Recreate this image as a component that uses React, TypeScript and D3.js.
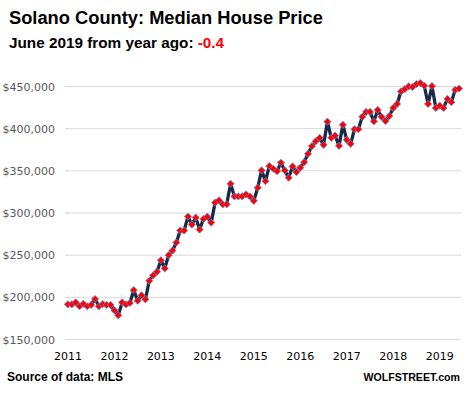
import React from "react";
import * as d3 from "d3";

const years = ["2011", "2012", "2013", "2014", "2015", "2016", "2017", "2018", "2019"];
const yTicks = [150000, 200000, 250000, 300000, 350000, 400000, 450000];
// Monthly median house price, Jan 2011 – Jun 2019
const prices = [
  191700, 191700, 194000, 189400, 192400, 189400, 191000, 198000, 189400, 192000, 191000, 191000,
  184600, 178700, 194000, 191700, 193300, 208600, 196000, 202400, 197600, 219600, 226000, 230300,
  244000, 234300, 250000, 255500, 265000, 279200, 279200, 295700, 286300, 294600, 280400, 293000,
  295700, 288600, 312300, 315000, 310300, 310300, 334700, 319700, 319700, 319700, 322000, 319700,
  314400, 330000, 350500, 337800, 355600, 352500, 349600, 359600, 350500, 341800, 355200, 348500,
  353700, 360300, 370200, 379200, 385100, 389100, 380800, 408300, 389100, 391800, 379600, 404500,
  386800, 382000, 399300, 399300, 414000, 419900, 419900, 408700, 422200, 414000, 409200, 415100,
  424600, 429300, 444200, 447000, 450100, 449400, 452900, 454100, 450900, 429300, 450500, 424600,
  427300, 424600, 435300, 431400, 446000, 447600,
];

const W = 472;
const H = 394;
const plotLeft = 66;
const plotRight = 461;
const plotTop = 86.5;
const plotBottom = 339.5;

export default function App() {
  const idx = d3.range(prices.length);
  const x = d3.scalePoint<number>().domain(idx).range([plotLeft, plotRight]).padding(0.5);
  const y = d3.scaleLinear().domain([150000, 450000]).range([plotBottom, plotTop]);
  const line = d3
    .line<number>()
    .x((d, i) => x(i) as number)
    .y((d) => y(d));
  const fmt = (v: number) => "$" + d3.format(",")(v);
  const font = "'DejaVu Sans', sans-serif";
  const boldFont = "'Liberation Sans', Arial, sans-serif";
  const r = 3.6;
  return (
    <svg
      width={W}
      height={H}
      style={{ position: "fixed", left: 0, top: 0, background: "#fff" }}
      xmlns="http://www.w3.org/2000/svg"
    >
      <rect x={0} y={0} width={W} height={H} fill="#fff" />
      <text x={9} y={24} fontFamily={boldFont} fontWeight="bold" fontSize={18.3} fill="#000">
        Solano County: Median House Price
      </text>
      <text x={9} y={48} fontFamily={boldFont} fontWeight="bold" fontSize={15.3} fill="#000">
        June 2019 from year ago: <tspan fill="#FF0000">-0.4</tspan>
      </text>
      {yTicks.map((t) => (
        <g key={t}>
          <line x1={plotLeft} x2={plotRight} y1={y(t)} y2={y(t)} stroke="#D9D9D9" strokeWidth={1} />
          <line x1={plotLeft - 1} x2={plotLeft + 3} y1={y(t)} y2={y(t)} stroke="#D9D9D9" strokeWidth={1} />
          <text
            x={55}
            y={y(t) + 4}
            textAnchor="end"
            fontFamily={font}
            fontSize={11}
            fill="#595959"
          >
            {fmt(t)}
          </text>
        </g>
      ))}
      {years.map((yr, k) => (
        <text
          key={yr}
          x={x(k * 12) as number}
          y={360}
          textAnchor="middle"
          fontFamily={font}
          fontSize={11}
          fill="#000"
        >
          {yr}
        </text>
      ))}
      <path d={line(prices) || ""} fill="none" stroke="#172A48" strokeWidth={3.3} strokeLinejoin="round" />
      {prices.map((v, i) => {
        const cx = x(i) as number;
        const cy = y(v);
        return (
          <path
            key={i}
            d={`M${cx},${cy - r}L${cx + r},${cy}L${cx},${cy + r}L${cx - r},${cy}Z`}
            fill="#FF0000"
            stroke="#6A86C8"
            strokeWidth={0.8}
          />
        );
      })}
      <text x={7} y={381} fontFamily={boldFont} fontWeight="bold" fontSize={12} fill="#000">
        Source of data: MLS
      </text>
      <text
        x={460}
        y={381}
        textAnchor="end"
        fontFamily={boldFont}
        fontWeight="bold"
        fontSize={10.6}
        fill="#000"
      >
        WOLFSTREET.com
      </text>
    </svg>
  );
}
